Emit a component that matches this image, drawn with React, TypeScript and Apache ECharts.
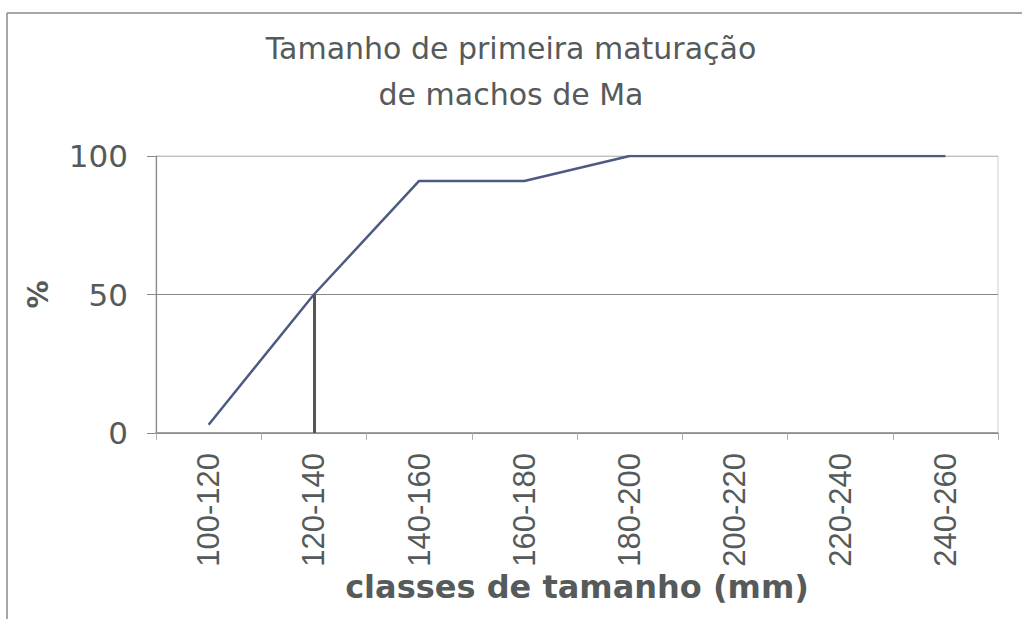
import React, { useEffect, useRef } from "react";
import * as echarts from "echarts";

const titleLines = ["Tamanho de primeira maturação", "de machos de Ma"];
const categories = ["100-120", "120-140", "140-160", "160-180", "180-200", "200-220", "220-240", "240-260"];
const maturePct = [3, 50, 91, 91, 100, 100, 100, 100];
const l50Category = "120-140";
const l50Value = 50;
const yTicks = { min: 0, max: 100, interval: 50 };
const xName = "classes de tamanho (mm)";
const yName = "%";

export default function App() {
  const ref = useRef<HTMLDivElement>(null);
  useEffect(() => {
    if (!ref.current) return;
    const chart = echarts.init(ref.current, null, { renderer: "svg" });
    const textColor = "#555a5a";
    chart.setOption({
      animation: false,
      backgroundColor: "#ffffff",
      title: {
        text: titleLines.join("\n"),
        left: "center",
        top: 20,
        textStyle: {
          fontFamily: "DejaVu Sans",
          fontSize: 30,
          fontWeight: "normal",
          color: textColor,
          lineHeight: 46,
        },
      },
      graphic: [
        {
          type: "line",
          shape: { x1: 7, y1: 13, x2: 7, y2: 619 },
          style: { stroke: "#8a8a8a", lineWidth: 1.5 },
          silent: true,
        },
        {
          type: "line",
          shape: { x1: 7, y1: 13, x2: 1022, y2: 13 },
          style: { stroke: "#8a8a8a", lineWidth: 1.5 },
          silent: true,
        },
      ],
      grid: {
        left: 156,
        right: 24,
        top: 156,
        bottom: 186,
        show: true,
        borderColor: "#cccccc",
        borderWidth: 1,
      },
      xAxis: {
        type: "category",
        data: categories,
        boundaryGap: true,
        name: xName,
        nameLocation: "middle",
        nameGap: 133,
        nameTextStyle: {
          fontFamily: "DejaVu Sans",
          fontSize: 32,
          fontWeight: "bold",
          color: textColor,
        },
        axisLine: { lineStyle: { color: "#8a8a8a", width: 1.5 } },
        axisTick: { show: true, alignWithLabel: false, length: 7, lineStyle: { color: "#b0b0b0" } },
        axisLabel: {
          rotate: 90,
          margin: 20,
          fontFamily: "Liberation Sans",
          fontSize: 31,
          color: textColor,
        },
        splitLine: { show: false },
      },
      yAxis: {
        type: "value",
        min: yTicks.min,
        max: yTicks.max,
        interval: yTicks.interval,
        name: yName,
        nameLocation: "middle",
        nameGap: 104,
        nameRotate: 90,
        nameTextStyle: {
          fontFamily: "DejaVu Sans",
          fontSize: 28,
          fontWeight: "bold",
          color: textColor,
        },
        axisLine: { show: true, lineStyle: { color: "#8a8a8a", width: 1.2 } },
        axisTick: { show: true, length: 9, lineStyle: { color: "#8a8a8a" } },
        axisLabel: {
          margin: 28,
          fontFamily: "DejaVu Sans",
          fontSize: 31,
          color: textColor,
        },
        splitLine: {
          show: true,
          lineStyle: { color: ["#8a8a8a", "#8a8a8a", "#bdbdbd"], width: 1 },
        },
      },
      series: [
        {
          type: "line",
          data: maturePct,
          symbol: "none",
          lineStyle: { color: "#4d5a82", width: 2.5 },
          z: 3,
          markLine: {
            silent: true,
            symbol: ["none", "none"],
            label: { show: false },
            lineStyle: { color: "#555555", width: 3, type: "solid" },
            data: [
              [
                { coord: [l50Category, 0] },
                { coord: [l50Category, l50Value] },
              ],
            ],
          },
        },
      ],
    });
    return () => chart.dispose();
  }, []);
  return (
    <div
      ref={ref}
      style={{ position: "absolute", left: 0, top: 0, width: 1022, height: 619 }}
    />
  );
}
